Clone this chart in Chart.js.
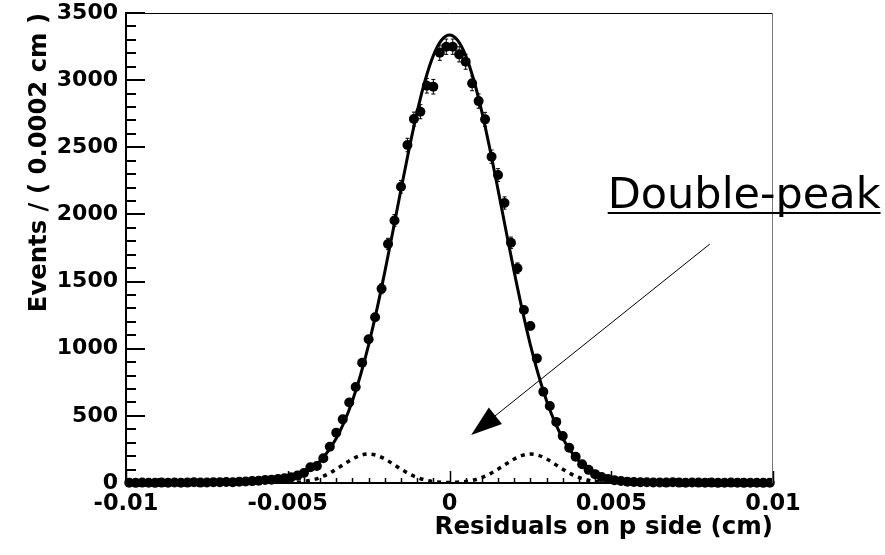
<!DOCTYPE html>
<html>
<head>
<meta charset="utf-8">
<script src="https://cdn.jsdelivr.net/npm/chart.js@4.4.1/dist/chart.umd.min.js"></script>
<style>
  html, body { margin: 0; padding: 0; background: #fff; }
  #wrap { width: 885px; height: 555px; }
</style>
</head>
<body>
<div id="wrap"><canvas id="residuals"></canvas></div>
<script>
// bin centres, 0.0002 cm wide, from -0.0099 to 0.0099
const binCentres = [
  -0.0099, -0.0097, -0.0095, -0.0093, -0.0091, -0.0089, -0.0087, -0.0085, -0.0083, -0.0081,
  -0.0079, -0.0077, -0.0075, -0.0073, -0.0071, -0.0069, -0.0067, -0.0065, -0.0063, -0.0061,
  -0.0059, -0.0057, -0.0055, -0.0053, -0.0051, -0.0049, -0.0047, -0.0045, -0.0043, -0.0041,
  -0.0039, -0.0037, -0.0035, -0.0033, -0.0031, -0.0029, -0.0027, -0.0025, -0.0023, -0.0021,
  -0.0019, -0.0017, -0.0015, -0.0013, -0.0011, -0.0009, -0.0007, -0.0005, -0.0003, -0.0001,
  0.0001, 0.0003, 0.0005, 0.0007, 0.0009, 0.0011, 0.0013, 0.0015, 0.0017, 0.0019,
  0.0021, 0.0023, 0.0025, 0.0027, 0.0029, 0.0031, 0.0033, 0.0035, 0.0037, 0.0039,
  0.0041, 0.0043, 0.0045, 0.0047, 0.0049, 0.0051, 0.0053, 0.0055, 0.0057, 0.0059,
  0.0061, 0.0063, 0.0065, 0.0067, 0.0069, 0.0071, 0.0073, 0.0075, 0.0077, 0.0079,
  0.0081, 0.0083, 0.0085, 0.0087, 0.0089, 0.0091, 0.0093, 0.0095, 0.0097, 0.0099
];
const binEvents = [
  2, 1, 3, 2, 1, 3, 2, 4, 2, 3,
  5, 3, 4, 6, 5, 7, 6, 9, 11, 14,
  17, 22, 25, 30, 36, 42, 55, 74, 117, 127,
  184, 270, 375, 474, 600, 715, 896, 1070, 1234, 1447,
  1780, 1955, 2206, 2517, 2710, 2765, 2958, 2951, 3204, 3249,
  3249, 3192, 3137, 2976, 2844, 2708, 2430, 2293, 2085, 1789,
  1599, 1288, 1169, 928, 680, 573, 455, 350, 262, 196,
  140, 98, 66, 44, 30, 21, 15, 10, 8, 6,
  5, 4, 4, 3, 5, 3, 2, 4, 3, 2,
  3, 1, 2, 3, 2, 1, 2, 2, 1, 2
];

// fitted curves
const fitX = [
  -0.01, -0.0065, -0.00625, -0.006, -0.00575, -0.0055, -0.00525, -0.005, -0.00475, -0.0045,
  -0.00425, -0.004, -0.00375, -0.0035, -0.00325, -0.003, -0.00275, -0.0025, -0.00225, -0.002,
  -0.00175, -0.0015, -0.00125, -0.001, -0.00075, -0.0005, -0.00025, 0,
  0.00025, 0.0005, 0.00075, 0.001, 0.00125, 0.0015, 0.00175, 0.002, 0.00225, 0.0025,
  0.00275, 0.003, 0.00325, 0.0035, 0.00375, 0.004, 0.00425, 0.0045, 0.00475, 0.005,
  0.00525, 0.0055, 0.00575, 0.006, 0.00625, 0.0065, 0.01
];
const fitTotal = [
  0, 1, 2, 4, 7, 11, 19, 30, 48, 74,
  111, 164, 237, 333, 457, 613, 804, 1029, 1287, 1572,
  1875, 2185, 2486, 2764, 3001, 3183, 3297, 3336,
  3297, 3183, 3001, 2764, 2486, 2185, 1875, 1572, 1287, 1029,
  804, 613, 457, 333, 237, 164, 111, 74, 48, 30,
  19, 11, 7, 4, 2, 1, 0
];
const fitDoublePeak = [
  0, 0, 0, 0, 0, 0, 1, 2, 5, 11,
  22, 41, 68, 103, 142, 179, 206, 216, 206, 179,
  142, 103, 68, 41, 22, 11, 6, 4,
  6, 11, 22, 41, 68, 103, 142, 179, 206, 216,
  206, 179, 142, 103, 68, 41, 22, 11, 5, 2,
  1, 0, 0, 0, 0, 0, 0
];

const xTicks = [-0.01, -0.005, 0, 0.005, 0.01];
const yTicks = [0, 500, 1000, 1500, 2000, 2500, 3000, 3500];

const noteText = 'Double-peak';
const noteAt = { x: 0.00489, y: 2048 };
const arrowFrom = { x: 0.00805, y: 1780 };
const arrowTo = { x: 0.00067, y: 357 };

Chart.defaults.font.family = '"DejaVu Sans", sans-serif';
Chart.defaults.color = '#000';

const points = binCentres.map((x, i) => ({ x, y: binEvents[i] }));
const total = fitX.map((x, i) => ({ x, y: fitTotal[i] }));
const doublePeak = fitX.map((x, i) => ({ x, y: fitDoublePeak[i] }));

function line(ctx, x1, y1, x2, y2) {
  ctx.beginPath();
  ctx.moveTo(x1, y1);
  ctx.lineTo(x2, y2);
  ctx.stroke();
}

// frame, inward ticks, error bars and the annotation
const extras = {
  id: 'extras',
  afterDatasetsDraw(chart) {
    const { ctx } = chart;
    const xs = chart.scales.x, ys = chart.scales.y;
    ctx.save();
    ctx.strokeStyle = '#000';
    ctx.lineWidth = 1;
    points.forEach(p => {
      const err = Math.sqrt(p.y);
      const px = xs.getPixelForValue(p.x);
      const top = ys.getPixelForValue(p.y + err);
      const bot = ys.getPixelForValue(Math.max(p.y - err, 0));
      if (bot - top < 10) return;
      line(ctx, px, top, px, bot);
      line(ctx, px - 2, top, px + 2, top);
      line(ctx, px - 2, bot, px + 2, bot);
    });
    ctx.restore();
  },
  afterDraw(chart) {
    const { ctx, chartArea: a } = chart;
    const xs = chart.scales.x, ys = chart.scales.y;
    ctx.save();
    // top and right frame lines
    ctx.lineWidth = 1;
    ctx.strokeStyle = '#000';
    line(ctx, a.left, a.top + 0.5, a.right, a.top + 0.5);
    ctx.strokeStyle = '#777';
    line(ctx, a.right - 0.5, a.top, a.right - 0.5, a.bottom);

    // ticks on the inside
    ctx.strokeStyle = '#000';
    ctx.lineWidth = 2;
    for (let v = 0; v <= 3500; v += 100) {
      const py = Math.round(ys.getPixelForValue(v));
      const len = v % 500 === 0 ? 19 : 10;
      line(ctx, a.left, py, a.left + len, py);
    }
    ctx.lineWidth = 1.5;
    for (let k = -20; k <= 20; k++) {
      const px = Math.round(xs.getPixelForValue(k * 0.0005)) + 0.5;
      const len = k % 10 === 0 ? 12 : 5;
      line(ctx, px, a.bottom, px, a.bottom - len);
    }

    // annotation
    const tx = xs.getPixelForValue(arrowTo.x), ty = ys.getPixelForValue(arrowTo.y);
    const fx = xs.getPixelForValue(arrowFrom.x), fy = ys.getPixelForValue(arrowFrom.y);
    const dx = fx - tx, dy = fy - ty, d = Math.hypot(dx, dy);
    const ux = dx / d, uy = dy / d;
    ctx.lineWidth = 1;
    line(ctx, fx, fy, tx + ux * 20, ty + uy * 20);
    const bx = tx + ux * 31, by = ty + uy * 31;
    ctx.fillStyle = '#000';
    ctx.beginPath();
    ctx.moveTo(tx, ty);
    ctx.lineTo(bx - uy * 10.5, by + ux * 10.5);
    ctx.lineTo(bx + uy * 10.5, by - ux * 10.5);
    ctx.closePath();
    ctx.fill();

    const nx = xs.getPixelForValue(noteAt.x), ny = ys.getPixelForValue(noteAt.y);
    ctx.font = '43px "DejaVu Sans", sans-serif';
    ctx.textAlign = 'left';
    ctx.textBaseline = 'alphabetic';
    ctx.fillText(noteText, nx, ny);
    const w = ctx.measureText(noteText).width;
    ctx.fillRect(nx, ny + 4, w, 2);
    ctx.restore();
  }
};

new Chart(document.getElementById('residuals'), {
  type: 'scatter',
  data: {
    datasets: [
      {
        data: points,
        pointRadius: 5,
        pointHoverRadius: 5,
        pointBackgroundColor: '#000',
        pointBorderColor: '#000',
        pointBorderWidth: 0,
        clip: false
      },
      {
        data: total,
        showLine: true,
        pointRadius: 0,
        borderColor: '#000',
        borderWidth: 3,
        cubicInterpolationMode: 'monotone'
      },
      {
        data: doublePeak,
        showLine: true,
        pointRadius: 0,
        borderColor: '#000',
        borderWidth: 3.5,
        borderDash: [4, 5],
        cubicInterpolationMode: 'monotone'
      }
    ]
  },
  plugins: [extras],
  options: {
    responsive: true,
    maintainAspectRatio: false,
    animation: false,
    events: [],
    layout: { padding: { left: 0, top: 13, right: 112, bottom: 0 } },
    plugins: { legend: { display: false }, tooltip: { enabled: false } },
    scales: {
      x: {
        type: 'linear',
        min: -0.01, max: 0.01,
        afterFit(scale) {
          scale.height = 72;
          scale.paddingLeft = 0;
          scale.paddingRight = 0;
        },
        afterBuildTicks(scale) { scale.ticks = xTicks.map(value => ({ value })); },
        grid: { display: false, drawTicks: false },
        border: { display: true, color: '#000', width: 2 },
        ticks: {
          padding: 8,
          autoSkip: false,
          maxRotation: 0,
          font: { size: 22.5, weight: 'bold', lineHeight: 1.2 },
          callback: v => String(+v.toFixed(4))
        },
        title: {
          display: true,
          text: 'Residuals on p side (cm)',
          align: 'end',
          font: { size: 24.5, weight: 'bold', lineHeight: 1.2 },
          padding: { top: 0, bottom: 13 }
        }
      },
      y: {
        type: 'linear',
        min: 0, max: 3500,
        afterFit(scale) {
          scale.width = 126;
          scale.paddingTop = 0;
          scale.paddingBottom = 0;
        },
        afterBuildTicks(scale) { scale.ticks = yTicks.map(value => ({ value })); },
        grid: { display: false, drawTicks: false },
        border: { display: true, color: '#000', width: 2 },
        ticks: {
          padding: 8,
          font: { size: 22, weight: 'bold', lineHeight: 1 },
          callback: v => String(v)
        },
        title: {
          display: true,
          text: 'Events / ( 0.0002 cm )',
          align: 'end',
          font: { size: 24.3, weight: 'bold', lineHeight: 1.2 },
          padding: { top: 25, bottom: 0 }
        }
      }
    }
  }
});
</script>
</body>
</html>
